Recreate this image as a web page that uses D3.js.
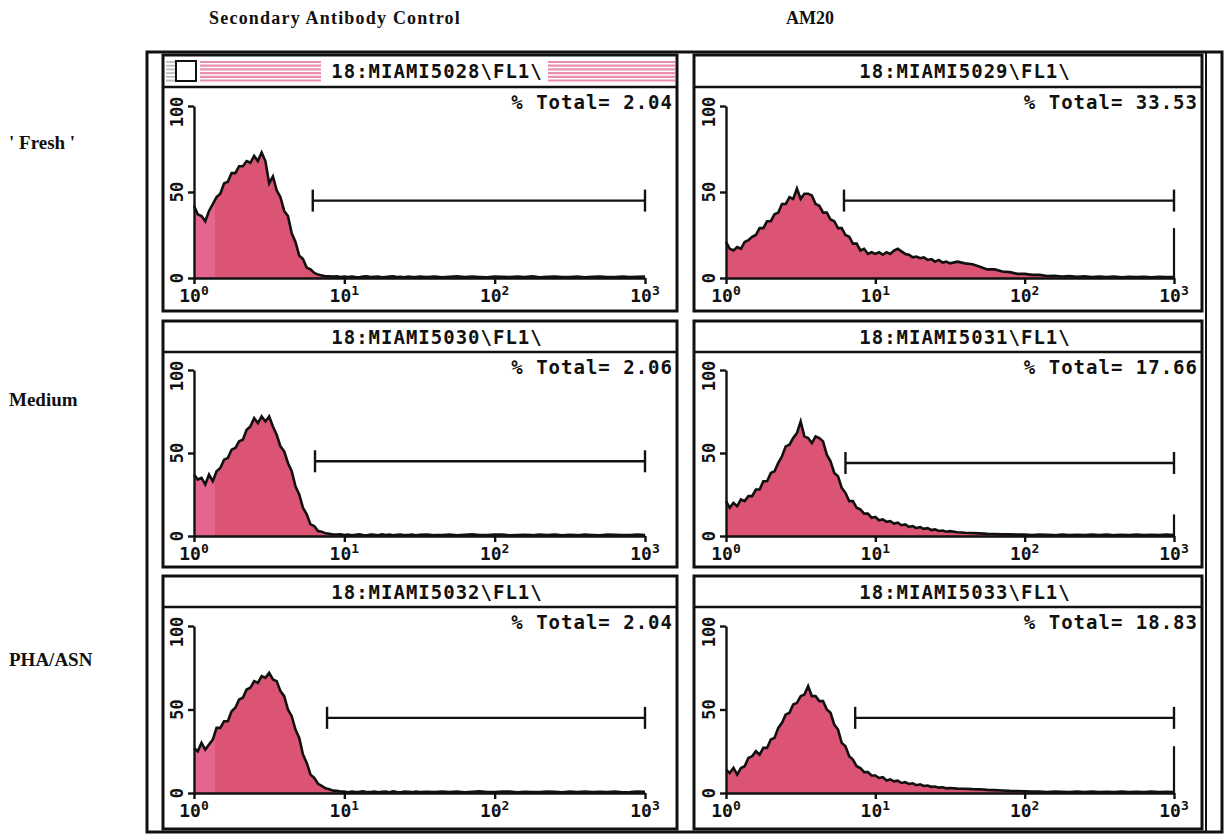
<!DOCTYPE html>
<html><head><meta charset="utf-8">
<script src="https://cdn.jsdelivr.net/npm/d3@7"></script>
<style>
html,body{margin:0;padding:0;background:#fff;}
svg{display:block;}
</style></head><body>
<svg id="c" width="1228" height="834"></svg>
<script>
// ---------------- DATA ----------------
const columnHeaders = ["Secondary Antibody Control", "AM20"];
const rowLabels = ["' Fresh '", "Medium", "PHA/ASN"];
const fileNames = ["18:MIAMI5028\\FL1\\", "18:MIAMI5029\\FL1\\", "18:MIAMI5030\\FL1\\",
                   "18:MIAMI5031\\FL1\\", "18:MIAMI5032\\FL1\\", "18:MIAMI5033\\FL1\\"];
const percentTotal = ["2.04", "33.53", "2.06", "17.66", "2.04", "18.83"];
const xMajorTicks = [1, 10, 100, 1000];
const xTickExponents = ["0", "1", "2", "3"];
const xMinorTicks = [2,3,4,5,6,7,8,9,20,30,40,50,60,70,80,90,200,300,400,500,600,700,800,900];
const yMajorTicks = [0, 50, 100];
const yTickLabels = ["0", "50", "100"];
const yMinorTicks = [0,10,20,30,40,50,60,70,80,90,100];
// gate marker: start (log decades) and level (% of max)
const gateStart = [0.79, 0.79, 0.805, 0.80, 0.885, 0.865];
const gateLevel = [45, 45, 45, 44, 45, 45];
// last-channel (overflow) pile-up at 10^3
const overflowCount = [0, 29, 0, 13, 0, 28];
// channel positions in log decades (10^0 .. 10^3)
const channels = [0,0.025,0.05,0.075,0.1,0.125,0.15,0.175,0.2,0.225,0.25,0.275,0.3,0.325,0.35,0.375,0.4,0.425,0.45,0.475,
  0.5,0.525,0.55,0.575,0.6,0.625,0.65,0.675,0.7,0.725,0.75,0.775,0.8,0.825,0.85,0.875,0.9,0.925,0.95,0.975,
  1.0,1.025,1.05,1.075,1.1,1.125,1.15,1.175,1.2,1.225,1.25,1.275,1.3,1.325,1.35,1.375,1.4,1.425,1.45,1.475,1.5,
  1.55,1.6,1.65,1.7,1.75,1.8,1.85,1.9,1.95,2.0,2.05,2.1,2.15,2.2,2.25,2.3,2.35,2.4,2.45,2.5,
  2.55,2.6,2.65,2.7,2.75,2.8,2.85,2.9,2.95,3.0];
const counts5028 = [42,37,36,33,39,43,47,49,55,56,61,61,65,65,68,67,71,68,73,68,55,59,51,47,39,36,26,21,13,11,6,5,3,2,1.5,1,1,0.8,1,0.6,
  0.8,0.5,0.9,0.6,0.4,0.8,1.0,0.5,0.7,0.9,0.4,0.6,0.8,1.0,0.5,0.7,0.4,0.9,0.6,0.5,0.8,
  0.6,0.9,0.4,0.7,1.0,0.5,0.8,0.6,0.4,0.9,0.7,0.5,0.8,0.6,1.0,0.4,0.7,0.9,0.5,0.6,0.8,0.4,0.7,0.9,0.5,0.6,0.8,0.5,0.7,0.9];
const counts5029 = [21,17,16,18,17,21,22,24,25,29,29,33,33,37,38,43,43,47,46,52,46,49,49,48,43,42,38,38,34,33,29,29,25,24,20,20,16,17,14,15,
  14,15,13.5,15,14,16,17,15.5,14,13.5,12,12.5,11.5,12,10.5,11,9.5,10.5,9,9.5,8.5,
  9.5,8.5,8,6.5,5,5,3.8,3.4,2.4,2.4,1.8,1.8,1.2,1.3,0.9,1.1,0.7,1.0,0.6,0.9,0.5,0.8,0.4,0.7,0.5,0.7,0.4,0.7,0.5,0.6];
const counts5030 = [37,34,35,31,37,33,39,41,46,47,52,53,57,58,64,66,71,68,72,69,72,66,61,54,51,44,39,30,25,17,13,7,6,3,2.6,1.6,1.4,0.9,0.9,1,
  0.6,0.9,0.5,0.8,1.0,0.6,0.4,0.9,0.7,0.5,1.0,0.6,0.8,0.4,0.7,0.9,0.5,0.6,0.8,0.5,0.7,
  0.9,0.5,0.6,0.8,0.4,0.7,1.0,0.6,0.5,0.8,0.9,0.4,0.6,0.7,0.5,0.9,0.6,0.8,0.4,0.7,0.5,0.9,0.6,0.4,0.8,0.7,0.5,0.6,0.9,0.6];
const counts5031 = [21,17,20,18,22,21,24,24,28,28,33,33,38,39,44,48,54,55,59,62,69,60,59,56,60,59,57,49,45,38,36,29,26,21,21,17,16,13.5,13.5,11,
  11.5,9.5,10,8.5,9,7.5,8,6.5,7,5.5,6,4.8,5.4,4.3,4.7,3.6,4,3,3.3,2.6,2.9,
  2.3,2,1.8,1.6,1.3,1.2,1,1,0.8,0.9,0.6,0.8,0.7,0.5,0.9,0.6,0.7,0.5,0.8,0.6,0.9,0.5,0.7,0.6,0.8,0.5,0.7,0.6,0.8,0.6];
const counts5032 = [27,25,30,26,29,32,39,39,43,43,49,51,56,57,62,63,67,66,70,69,72,68,67,61,58,50,46,38,33,23,18,11,9,5.5,4.2,2.8,2.2,1.4,1.3,0.9,
  0.8,0.5,0.9,0.6,0.7,1.0,0.5,0.6,0.9,0.4,0.7,0.8,0.5,1.0,0.6,0.4,0.8,0.7,0.5,0.9,0.6,
  0.7,0.5,0.9,0.6,0.8,0.4,0.7,1.0,0.5,0.6,0.8,0.9,0.4,0.7,0.6,0.5,0.9,0.7,0.4,0.8,0.6,0.9,0.5,0.7,0.6,0.8,0.4,0.6,0.9,0.7];
const counts5033 = [14,12,15,11,15,16,21,22,25,23,27,27,32,33,39,42,47,48,53,54,58,59,64,58,58,55,55,50,48,41,38,30,28,22,20,16,15,12.5,12.5,10.5,
  10.5,9,9.5,7.5,8.2,7,7.4,6,6.5,5.4,5.8,4.7,5.2,4.2,4.5,3.7,3.9,3.2,3.4,2.8,3,
  2.6,2.5,2.3,2.2,1.9,1.7,1.5,1.3,1.2,1,0.8,0.9,0.6,0.8,0.7,0.5,0.8,0.6,0.9,0.5,0.7,0.6,0.8,0.5,0.7,0.6,0.8,0.5,0.7,0.6];
const panelCounts = [counts5028, counts5029, counts5030, counts5031, counts5032, counts5033];

// ---------------- LAYOUT / STYLE ----------------
const MONO = "'DejaVu Sans Mono', monospace";
const SERIF = "'Liberation Serif', 'Times New Roman', serif";
const FILL = "#dc5474";
const FILL_LIGHT = "#e4668f";
const STRIPE = "#ea8fab";
const colLayout = [
  {left: 163, right: 677, ax0: 194, ax3: 645},
  {left: 694, right: 1202, ax0: 726, ax3: 1174}
];
const rowLayout = [
  {top: 55, titleBottom: 87, bottom: 311, base: 278, top100: 106},
  {top: 321, titleBottom: 352, bottom: 567, base: 536, top100: 370},
  {top: 576, titleBottom: 607, bottom: 829, base: 793, top100: 626}
];

const svg = d3.select("#c");
svg.append("rect").attr("width", 1228).attr("height", 834).attr("fill", "#fff");

// outer window frame
svg.append("rect").attr("x", 147).attr("y", 52).attr("width", 1075).attr("height", 780)
  .attr("fill", "none").attr("stroke", "#111").attr("stroke-width", 3);
svg.append("line").attr("x1", 1206).attr("x2", 1206).attr("y1", 52).attr("y2", 832)
  .attr("stroke", "#111").attr("stroke-width", 2);

// column headers
const headerX = [335, 810];
columnHeaders.forEach((t, i) => {
  svg.append("text").attr("x", headerX[i]).attr("y", 24)
    .attr("text-anchor", "middle").attr("font-family", SERIF).attr("font-weight", "bold")
    .attr("font-size", 18).attr("letter-spacing", i === 0 ? 1.2 : 0)
    .attr("fill", "#111").text(t);
});
// row labels
const rowLabelY = [149, 406, 666];
rowLabels.forEach((t, i) => {
  svg.append("text").attr("x", 9).attr("y", rowLabelY[i])
    .attr("font-family", SERIF).attr("font-weight", "bold").attr("font-size", 19)
    .attr("fill", "#111").text(t);
});

panelCounts.forEach((counts, p) => {
  const r = Math.floor(p / 2), c = p % 2;
  const L = colLayout[c], R = rowLayout[r];
  const g = svg.append("g");

  // panel box + title bar
  g.append("rect").attr("x", L.left).attr("y", R.top).attr("width", L.right - L.left)
    .attr("height", R.bottom - R.top).attr("fill", "#fff").attr("stroke", "#111").attr("stroke-width", 3);
  g.append("line").attr("x1", L.left).attr("x2", L.right).attr("y1", R.titleBottom).attr("y2", R.titleBottom)
    .attr("stroke", "#111").attr("stroke-width", 2.5);

  if (p === 0) {
    // active-window title bar decoration
    for (let k = 0; k < 6; k++) {
      const yy = R.top + 7 + k * 3.7;
      g.append("line").attr("x1", L.left + 3).attr("x2", L.left + 12).attr("y1", yy).attr("y2", yy)
        .attr("stroke", "#bbb").attr("stroke-width", 1.8);
      g.append("line").attr("x1", L.left + 37).attr("x2", L.left + 158).attr("y1", yy).attr("y2", yy)
        .attr("stroke", STRIPE).attr("stroke-width", 2.2);
      g.append("line").attr("x1", L.left + 385).attr("x2", L.right - 2).attr("y1", yy).attr("y2", yy)
        .attr("stroke", STRIPE).attr("stroke-width", 2.2);
    }
    g.append("rect").attr("x", L.left + 13).attr("y", R.top + 6).attr("width", 20).attr("height", 20)
      .attr("fill", "#fff").attr("stroke", "#111").attr("stroke-width", 2);
  }

  g.append("text").attr("x", (L.left + L.right) / 2 + 17).attr("y", (R.top + R.titleBottom) / 2 + 7)
    .attr("text-anchor", "middle").attr("font-family", MONO).attr("font-weight", "bold")
    .attr("font-size", 19).attr("letter-spacing", 1).attr("fill", "#111").text(fileNames[p]);

  g.append("text").attr("x", L.right - 4).attr("y", R.titleBottom + 22)
    .attr("text-anchor", "end").attr("font-family", MONO).attr("font-weight", "bold")
    .attr("font-size", 19).attr("letter-spacing", 1).attr("fill", "#111")
    .text("% Total= " + percentTotal[p]);

  // scales
  const x = d3.scaleLog().domain([1, 1000]).range([L.ax0, L.ax3]);
  const y = d3.scaleLinear().domain([0, 100]).range([R.base, R.top100]);
  const idx = d3.range(channels.length);

  const area = d3.area().x(i => x(Math.pow(10, channels[i]))).y0(R.base).y1(i => y(counts[i]));
  const line = d3.line().x(i => x(Math.pow(10, channels[i]))).y(i => y(counts[i]));

  g.append("path").attr("d", area(idx)).attr("fill", FILL);
  if (c === 0) {
    const cid = "clip" + p;
    g.append("clipPath").attr("id", cid).append("rect")
      .attr("x", x(1)).attr("y", R.top100 - 5).attr("width", x(Math.pow(10, 0.14)) - x(1))
      .attr("height", R.base - R.top100 + 5);
    g.append("path").attr("d", area(idx)).attr("fill", FILL_LIGHT).attr("clip-path", `url(#${cid})`);
  }
  g.append("path").attr("d", line(idx)).attr("fill", "none").attr("stroke", "#111")
    .attr("stroke-width", 2.6).attr("stroke-linejoin", "miter");

  // overflow spike at last channel
  if (overflowCount[p] > 0) {
    g.append("line").attr("x1", x(1000)).attr("x2", x(1000)).attr("y1", y(0)).attr("y2", y(overflowCount[p]))
      .attr("stroke", "#111").attr("stroke-width", 2.2);
  }

  // x axis
  const xa = g.append("g").attr("transform", `translate(0,${R.base})`);
  xa.call(d3.axisBottom(x).tickValues(xMinorTicks).tickSize(4).tickSizeOuter(0).tickFormat(""));
  xa.call(d3.axisBottom(x).tickValues(xMajorTicks).tickSize(6).tickSizeOuter(0).tickFormat(""));
  xa.selectAll("path,line").attr("stroke", "#111").attr("stroke-width", 2.4);
  xMajorTicks.forEach((v, k) => {
    const t = g.append("text").attr("x", x(v)).attr("y", R.base + 24)
      .attr("text-anchor", "middle").attr("font-family", MONO).attr("font-weight", "bold")
      .attr("font-size", 18).attr("fill", "#111");
    t.append("tspan").text("10");
    t.append("tspan").attr("font-size", 13).attr("dy", -7).text(xTickExponents[k]);
  });

  // y axis
  const ya = g.append("g").attr("transform", `translate(${L.ax0},0)`);
  ya.call(d3.axisLeft(y).tickValues(yMinorTicks).tickSize(3).tickSizeOuter(0).tickFormat(""));
  ya.call(d3.axisLeft(y).tickValues(yMajorTicks).tickSize(6).tickSizeOuter(0).tickFormat(""));
  ya.selectAll("path,line").attr("stroke", "#111").attr("stroke-width", 2.4);
  yMajorTicks.forEach((v, k) => {
    const yy = y(v) + (v === 100 ? 6 : 0);
    g.append("text").attr("transform", `translate(${L.ax0 - 11},${yy}) rotate(-90)`)
      .attr("text-anchor", "middle").attr("font-family", MONO).attr("font-weight", "bold")
      .attr("font-size", 17).attr("fill", "#111").text(yTickLabels[k]);
  });

  // gate marker
  const gx0 = x(Math.pow(10, gateStart[p])), gx1 = x(1000), gy = y(gateLevel[p]);
  g.append("line").attr("x1", gx0).attr("x2", gx1).attr("y1", gy).attr("y2", gy)
    .attr("stroke", "#111").attr("stroke-width", 2.4);
  [gx0, gx1].forEach(gx => g.append("line").attr("x1", gx).attr("x2", gx).attr("y1", gy - 11).attr("y2", gy + 11)
    .attr("stroke", "#111").attr("stroke-width", 2.4));
});
</script>
</body></html>
